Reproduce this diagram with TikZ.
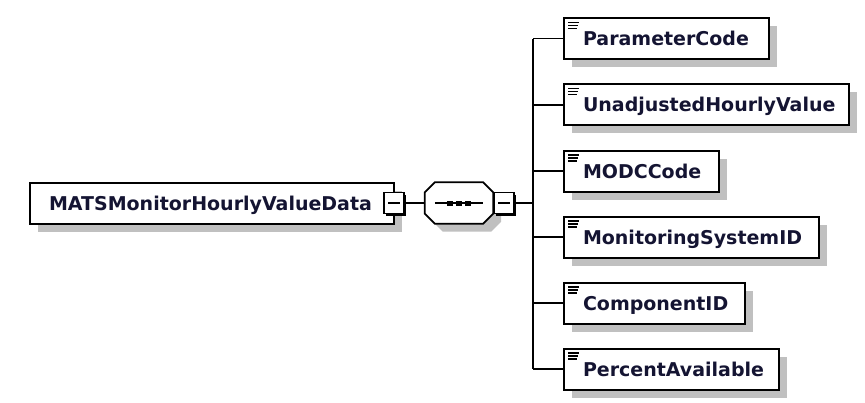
\documentclass[tikz,border=0pt]{standalone}
\usepackage{fontspec}
\setmainfont{DejaVu Sans}
\usetikzlibrary{shadows}
\definecolor{shadowgray}{RGB}{192,192,192}
\definecolor{namecolor}{RGB}{20,20,50}
\newcommand\elname[2]{\makebox[#1pt][l]{#2}}
\tikzset{
	elembox/.style={draw, line width=2pt, fill=white, anchor=west, minimum height=41pt, inner xsep=19pt, inner ysep=0pt, text height=14pt, text depth=0pt, font=\fontsize{19}{22}\selectfont\bfseries, text=namecolor, drop shadow={shadow xshift=8pt, shadow yshift=-8pt, fill=shadowgray, opacity=1}},
	childbox/.style={elembox, path picture={
		\foreach \k/\l in {4.5/11,7.5/10,10.5/9}
		\draw[line width=1.4pt] ([xshift=4pt,yshift=-\k pt]path picture bounding box.north west) -- ++(\l pt,0);}},
	minusbox/.style={draw, line width=1.6pt, fill=white, minimum width=20pt, minimum height=21pt, inner sep=0pt, drop shadow={shadow xshift=2pt, shadow yshift=-2pt, fill=black, opacity=1}, path picture={\draw[line width=1.5pt] ([xshift=4pt]path picture bounding box.west) -- ([xshift=-4pt]path picture bounding box.east);}},
	seqshape/.style={line width=1.8pt, fill=white, drop shadow={shadow xshift=8pt, shadow yshift=-8pt, fill=shadowgray, opacity=1}},
	link/.style={line width=1.9pt},
}

\begin{document}
\begin{tikzpicture}[x=1pt,y=-1pt]
	\useasboundingbox[fill=white] (0,0) rectangle (865,402);
	% main element
	\node[elembox] at (29,203) (main) {\elname{326}{MATSMonitorHourlyValueData}};
	\node[minusbox] at (394,203) (mm) {};
	% sequence compositor
	\node[minimum width=68pt, minimum height=41pt, inner sep=0pt] at (459,203) (seq) {};
	\draw[seqshape] ([xshift=10pt]seq.north west) -- ([xshift=-10pt]seq.north east) -- ([yshift=-10pt]seq.north east) -- ([yshift=10pt]seq.south east) -- ([xshift=-10pt]seq.south east) -- ([xshift=10pt]seq.south west) -- ([yshift=10pt]seq.south west) -- ([yshift=-10pt]seq.north west) -- cycle;
	\draw[link] ([xshift=10pt]seq.west) -- ([xshift=-10pt]seq.east);
	\foreach \dx in {-9,0,9}
		\fill ([xshift=\dx pt]seq.center) +(-3pt,-2.5pt) rectangle +(3pt,2.5pt);
	\node[minusbox] at (504,203) (sm) {};
	\coordinate (trunk) at (533,203);
	% child elements
	\node[childbox] at (563,38.5) (pc) {\elname{167}{ParameterCode}};
	\node[childbox] at (563,104.7) (uhv) {\elname{247}{UnadjustedHourlyValue}};
	\node[childbox] at (563,171) (modc) {\elname{117}{MODCCode}};
	\node[childbox] at (563,237) (msid) {\elname{217}{MonitoringSystemID}};
	\node[childbox] at (563,303) (cid) {\elname{143}{ComponentID}};
	\node[childbox] at (563,369) (pa) {\elname{177}{PercentAvailable}};
	\draw[link] (mm) -- (seq);
	\draw[link] (sm) -- (trunk);
	\draw[link] (pc.west -| trunk) -- (pa.west -| trunk);
	\draw[link] (pc.west -| trunk) -- (pc.west);
	\draw[link] (uhv.west -| trunk) -- (uhv.west);
	\draw[link] (modc.west -| trunk) -- (modc.west);
	\draw[link] (msid.west -| trunk) -- (msid.west);
	\draw[link] (cid.west -| trunk) -- (cid.west);
	\draw[link] (pa.west -| trunk) -- (pa.west);
\end{tikzpicture}
\end{document}
